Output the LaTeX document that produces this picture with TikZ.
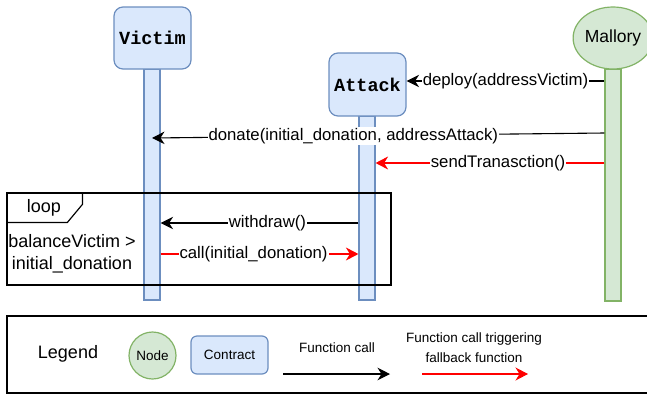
\documentclass[tikz,border=0pt]{standalone}
\usepackage{fontspec}
\setmainfont{Liberation Sans}
\setmonofont{Liberation Mono}
\usetikzlibrary{shapes.geometric,arrows.meta}
\definecolor{cfill}{HTML}{DAE8FC}
\definecolor{cline}{HTML}{6C8EBF}
\definecolor{nfill}{HTML}{D5E8D4}
\definecolor{nline}{HTML}{82B366}
\definecolor{fred}{HTML}{FF0000}
\tikzset{
  contract/.style={draw=cline, fill=cfill, line width=1.2pt, rounded corners=9pt, inner sep=0pt},
  cline box/.style={draw=cline, fill=cfill, line width=1.2pt, inner sep=0pt, minimum width=16pt},
  nline box/.style={draw=nline, fill=nfill, line width=1.2pt, inner sep=0pt, minimum width=16pt},
  person/.style={ellipse, draw=nline, fill=nfill, line width=1.2pt, inner sep=0pt},
  msgfont/.style={font=\fontsize{16.75}{20}\selectfont},
  lbl/.style={msgfont, fill=white, inner sep=1pt},
  call/.style={draw=black, line width=1.1pt, -{Stealth[length=12.5pt,width=12.5pt,inset=4pt]}},
  fallback/.style={draw=fred, line width=1.1pt, -{Stealth[length=12.5pt,width=13pt,inset=4pt]}},
  frame/.style={draw=black, line width=1.2pt, inner sep=0pt},
  legfont/.style={font=\fontsize{13.5}{16}\selectfont}
}
\begin{document}
\begin{tikzpicture}[x=1pt,y=-1pt]
\useasboundingbox (0,0) rectangle (647,397);
\clip (0,0) rectangle (647,397);
% lifelines
\node[cline box, minimum height=231pt] (vl) at (152,184.5) {};
\node[cline box, minimum height=184pt] (al) at (367,208) {};
\node[nline box, minimum height=232pt] (ml) at (613,185) {};
% heads
\node[contract, minimum width=77pt, minimum height=62pt, font=\ttfamily\bfseries\fontsize{18.5}{20}\selectfont] (victim) at (152.5,38) {Victim};
\node[contract, minimum width=77pt, minimum height=63pt, font=\ttfamily\bfseries\fontsize{18.5}{20}\selectfont] (attack) at (367.5,84.5) {Attack};
\node[person, minimum width=76pt, minimum height=62pt, font=\fontsize{17.5}{20}\selectfont] (mallory) at (613,38) {Mallory};
% loop frame
\node[frame, minimum width=384pt, minimum height=92pt] (loopf) at (199,239) {};
\draw[line width=1.2pt] (loopf.north west) ++(76,0) coordinate (t1) -- ++(0,12) -- ++(-15,18) coordinate (t2) -- (t2 -| loopf.west);
\node[font=\fontsize{18}{20}\selectfont, inner sep=0pt] (looplbl) at (44,208) {loop};
\node[font=\fontsize{18}{22}\selectfont, align=center, inner sep=0pt] (cond) at (72,254) {balanceVictim >\\initial\_donation};
% messages
\draw[call] (ml.west |- 0,81) -- node[lbl, pos=0.5] {deploy(addressVictim)} (attack.east |- 0,81);
\draw[call] (ml.west |- 0,133) -- node[lbl, pos=0.555] {donate(initial\_donation, addressAttack)} (vl.center |- 0,138);
\draw[fallback] (ml.west |- 0,163) -- node[lbl, pos=0.465] {sendTranasction()} (al.east |- 0,163);
\draw[call] (al.west |- 0,223) -- node[lbl, pos=0.46] {withdraw()} (vl.east |- 0,223);
\draw[fallback] (vl.east |- 0,254) -- node[lbl, pos=0.47] {call(initial\_donation)} (al.west |- 0,254);
% legend
\node[frame, minimum width=645pt, minimum height=77pt] (legend) at (329.5,354.5) {};
\node[font=\fontsize{18}{20}\selectfont, inner sep=0pt] (legtitle) at (68,354) {Legend};
\node[person, minimum width=47pt, minimum height=47pt, legfont] (legnode) at (152.5,355.5) {Node};
\node[contract, rounded corners=6pt, minimum width=77pt, minimum height=38pt, legfont] (legcontract) at (229.5,355) {Contract};
\node[legfont, inner sep=0pt] (fcall) at (337,348) {Function call};
\coordinate (fa1) at (283,374);
\coordinate (fa2) at (390,374);
\draw[call] (fa1) -- (fa2);
\node[legfont, align=center, inner sep=0pt] (fback) at (474,347.5) {Function call triggering\\[4pt]fallback function};
\coordinate (fb1) at (422,374);
\coordinate (fb2) at (528,374);
\draw[fallback] (fb1) -- (fb2);
\end{tikzpicture}
\end{document}
